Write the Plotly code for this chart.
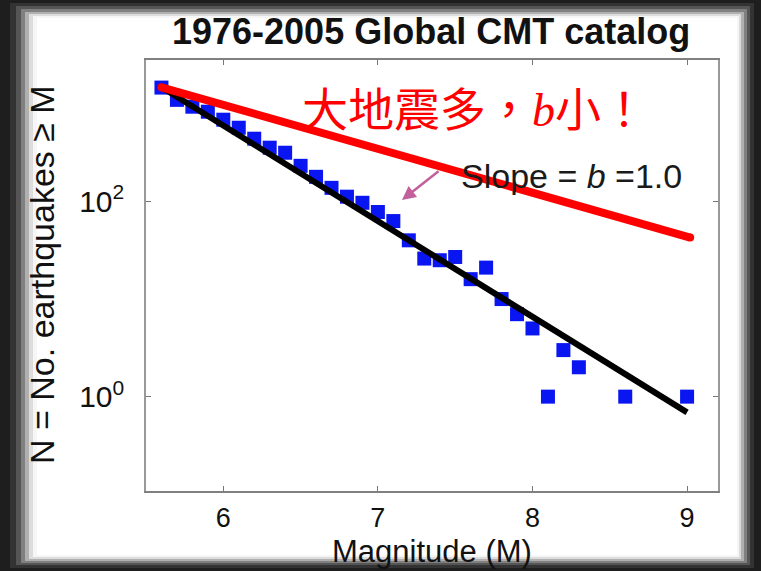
import plotly.graph_objects as go

# ---- data ----
magnitude = [5.6, 5.7, 5.8, 5.9, 6.0, 6.1, 6.2, 6.3, 6.4, 6.5, 6.6, 6.7, 6.8, 6.9,
             7.0, 7.1, 7.2, 7.3, 7.4, 7.5, 7.6, 7.7, 7.8, 7.9, 8.0, 8.1, 8.2, 8.3,
             8.6, 9.0]
num_quakes = [1470, 1100, 936, 832, 689, 570, 440, 356, 316, 232, 179, 138, 112, 97,
              78, 63, 40, 26, 25, 27, 16, 21, 10, 7, 5, 1, 3, 2,
              1, 1]

fit_m = [5.6, 9.0]          # b = 1.0 fit line
fit_n = [1480, 0.69]
red_m = [5.6, 9.02]         # hand-drawn "small b" line
red_n = [1480, 42.7]

x_ticks = [6, 7, 8, 9]
y_tickvals = [1, 100]
y_ticktext = ["10<sup>0</sup>", "10<sup>2</sup>"]

title_text = "1976-2005 Global CMT catalog"
x_title = "Magnitude (M)"
y_title = "N = No. earthquakes ≥ M"
slope_text = "Slope = <i>b</i> =1.0"
cn_text = ("大地震多，<span style=\"font-family:'Liberation Serif';font-style:italic\">b</span>小！")

# ---- layout geometry (pixels) ----
W, H = 761, 571
L, R, T, B = 146, 718, 60, 491


def px(x):
    return (x - L) / (R - L)


def py(y):
    return (B - y) / (B - T)


fig = go.Figure()

fig.add_trace(go.Scatter(
    x=magnitude, y=num_quakes, mode="markers",
    marker=dict(symbol="square", size=14, color="#0a16f2",
                line=dict(width=0)),
    showlegend=False, hoverinfo="skip"))

fig.add_trace(go.Scatter(
    x=fit_m, y=fit_n, mode="lines",
    line=dict(color="black", width=6),
    showlegend=False, hoverinfo="skip"))

fig.add_trace(go.Scatter(
    x=red_m, y=red_n, mode="lines+markers",
    line=dict(color="#ff0000", width=8),
    marker=dict(symbol="circle", size=8, color="#ff0000"),
    showlegend=False, hoverinfo="skip"))

# slide frame (dark blurred border)
frame_layers = [
    (10, 3, 754, 568, "#333333"),
    (16, 6, 750, 565, "#555555"),
    (21, 9, 747, 563, "#808080"),
    (25, 12, 744, 561, "#b0b0b0"),
    (29, 14, 741, 559, "#dcdcdc"),
    (33, 16, 739, 557, "#f6f6f6"),
    (37, 18, 737, 555, "#ffffff"),
]
shapes = []
for x0, y0, x1, y1, c in frame_layers:
    shapes.append(dict(type="rect", xref="paper", yref="paper",
                       x0=px(x0), x1=px(x1), y0=py(y1), y1=py(y0),
                       fillcolor=c, line=dict(width=0), layer="below"))

font_fam = "Liberation Sans, Arial, sans-serif"

annotations = [
    dict(text="<b>" + title_text + "</b>", xref="paper", yref="paper",
         x=px(431), y=py(31), showarrow=False,
         font=dict(family=font_fam, size=36, color="#111111"),
         xanchor="center", yanchor="middle"),
    dict(text=x_title, xref="paper", yref="paper",
         x=px(432), y=py(551), showarrow=False,
         font=dict(family=font_fam, size=31, color="#111111"),
         xanchor="center", yanchor="middle"),
    dict(text=y_title, xref="paper", yref="paper",
         x=px(42), y=py(275), showarrow=False, textangle=-90,
         font=dict(family=font_fam, size=34, color="#111111"),
         xanchor="center", yanchor="middle"),
    dict(text=slope_text, xref="paper", yref="paper",
         x=px(571), y=py(176), showarrow=False,
         font=dict(family=font_fam, size=34, color="#1a1a1a"),
         xanchor="center", yanchor="middle"),
    dict(text="", xref="paper", yref="paper",
         x=px(402), y=py(200), ax=38, ay=-30,
         showarrow=True, arrowhead=2, arrowsize=1.1, arrowwidth=2.5,
         arrowcolor="#c2609c"),
    dict(text=cn_text, xref="paper", yref="paper",
         x=px(474), y=py(106), showarrow=False,
         font=dict(family="Noto Sans CJK TC, Noto Sans CJK SC", size=46,
                   color="#ff0000"),
         xanchor="center", yanchor="middle"),
]

fig.update_layout(
    width=W, height=H,
    margin=dict(l=L, r=W - R, t=T, b=H - B),
    paper_bgcolor="#1e1e1e",
    plot_bgcolor="white",
    shapes=shapes,
    annotations=annotations,
    showlegend=False,
    xaxis=dict(range=[5.5, 9.2], tickvals=x_ticks,
               ticks="inside", ticklen=5, tickcolor="#777777",
               showline=True, linecolor="#808080", linewidth=1.5,
               mirror="ticks", showgrid=False, zeroline=False,
               ticklabelstandoff=2,
               tickfont=dict(family=font_fam, size=27, color="#111111")),
    yaxis=dict(type="log", range=[-0.967, 3.45],
               tickvals=y_tickvals, ticktext=y_ticktext,
               ticks="inside", ticklen=5, tickcolor="#777777",
               showline=True, linecolor="#999999", linewidth=1.5,
               mirror="ticks", showgrid=False, zeroline=False,
               ticklabelstandoff=14,
               tickfont=dict(family=font_fam, size=30, color="#111111")),
)

fig.write_html("out.html")
